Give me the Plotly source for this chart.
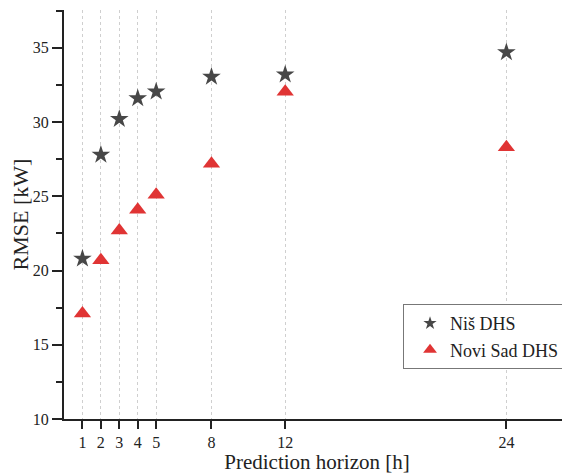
import plotly.graph_objects as go

horizons = [1, 2, 3, 4, 5, 8, 12, 24]
nis_rmse = [20.8, 27.8, 30.2, 31.6, 32.05, 33.05, 33.2, 34.7]
novisad_rmse = [17.1, 20.7, 22.7, 24.1, 25.1, 27.2, 32.05, 28.3]
x_ticks = [1, 2, 3, 4, 5, 8, 12, 24]
y_ticks = [10, 15, 20, 25, 30, 35]
series_names = ["Niš DHS", "Novi Sad DHS"]

font_family = "Liberation Serif, Times New Roman, serif"
star_color = "#474747"
tri_color = "#e03434"

fig = go.Figure()
fig.add_trace(go.Scatter(
    x=horizons, y=nis_rmse, mode="markers", name=series_names[0], showlegend=False,
    marker=dict(symbol="star", size=14, color=star_color, line=dict(width=0)),
))
fig.add_trace(go.Scatter(
    x=horizons, y=novisad_rmse, mode="markers", name=series_names[1], showlegend=False,
    marker=dict(symbol="triangle-up", size=15, color=tri_color, line=dict(width=0)),
))
# legend entries (smaller symbols, as in the reference legend)
fig.add_trace(go.Scatter(
    x=[None], y=[None], mode="markers", name=series_names[0],
    marker=dict(symbol="star", size=10, color=star_color, line=dict(width=0)),
))
fig.add_trace(go.Scatter(
    x=[None], y=[None], mode="markers", name=series_names[1],
    marker=dict(symbol="triangle-up", size=12, color=tri_color, line=dict(width=0)),
))

fig.update_layout(
    width=562, height=466,
    margin=dict(l=56, r=0, t=2, b=55, autoexpand=False),
    paper_bgcolor="white", plot_bgcolor="white",
    font=dict(family=font_family, size=16, color="#222222"),
    showlegend=True,
    legend=dict(
        x=0.67, y=0.281, xanchor="left", yanchor="top",
        bgcolor="white", bordercolor="#777777", borderwidth=1,
        font=dict(family=font_family, size=18, color="#222222"),
        itemsizing="trace", tracegroupgap=0, indentation=6,
    ),
    xaxis=dict(
        range=[0, 27.45], tickmode="array", tickvals=x_ticks,
        ticktext=[str(v) for v in x_ticks],
        showline=True, linecolor="#222222", linewidth=2,
        ticks="outside", ticklen=8, tickwidth=1.5, tickcolor="#222222",
        showgrid=True, gridcolor="#cfcfcf", gridwidth=1, griddash="dot",
        zeroline=False, automargin=False,
        title=dict(text="Prediction horizon [h]", font=dict(size=21, family=font_family), standoff=2),
        tickfont=dict(size=16, family=font_family),
    ),
    yaxis=dict(
        range=[10, 37.55], tickmode="array", tickvals=y_ticks,
        showline=True, linecolor="#222222", linewidth=2,
        ticks="outside", ticklen=10, tickwidth=1.5, tickcolor="#222222",
        minor=dict(ticks="outside", ticklen=6, tickwidth=1.5, tickcolor="#222222", dtick=2.5, tick0=10, showgrid=False),
        showgrid=False, zeroline=False, automargin=False,
        title=dict(text="RMSE [kW]", font=dict(size=22, family=font_family), standoff=6),
        tickfont=dict(size=16, family=font_family),
    ),
)

fig.write_html("out.html")
